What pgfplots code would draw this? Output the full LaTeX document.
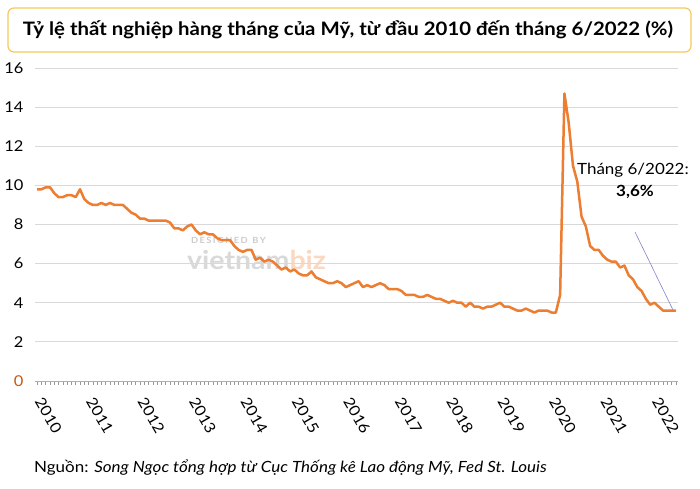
\documentclass[border=0pt]{standalone}
\usepackage{pgfplots}
\usepackage{pgfplotstable}
\pgfplotsset{compat=1.18}
\usepackage{fontspec}
\setmainfont{Lato}[FakeStretch=1.1]
\definecolor{lineor}{HTML}{ED7D31}
\definecolor{gridc}{HTML}{D9D9D9}
\definecolor{boxc}{HTML}{F6C85F}
\definecolor{zeroc}{HTML}{C55A11}
\pgfplotstableread{
u
9.8
9.8
9.9
9.9
9.6
9.4
9.4
9.5
9.5
9.4
9.8
9.3
9.1
9.0
9.0
9.1
9.0
9.1
9.0
9.0
9.0
8.8
8.6
8.5
8.3
8.3
8.2
8.2
8.2
8.2
8.2
8.1
7.8
7.8
7.7
7.9
8.0
7.7
7.5
7.6
7.5
7.5
7.3
7.2
7.2
7.2
6.9
6.7
6.6
6.7
6.7
6.2
6.3
6.1
6.2
6.1
5.9
5.7
5.8
5.6
5.7
5.5
5.4
5.4
5.6
5.3
5.2
5.1
5.0
5.0
5.1
5.0
4.8
4.9
5.0
5.1
4.8
4.9
4.8
4.9
5.0
4.9
4.7
4.7
4.7
4.6
4.4
4.4
4.4
4.3
4.3
4.4
4.3
4.2
4.2
4.1
4.0
4.1
4.0
4.0
3.8
4.0
3.8
3.8
3.7
3.8
3.8
3.9
4.0
3.8
3.8
3.7
3.6
3.6
3.7
3.6
3.5
3.6
3.6
3.6
3.5
3.5
4.4
14.7
13.2
11.0
10.2
8.4
7.9
6.9
6.7
6.7
6.4
6.2
6.1
6.1
5.8
5.9
5.4
5.2
4.8
4.6
4.2
3.9
4.0
3.8
3.6
3.6
3.6
3.6
}\unrate
\begin{document}
\begin{tikzpicture}[x=1bp,y=1bp]
\path[use as bounding box,fill=white] (0,0) rectangle (700,489);
% title box
\draw[boxc,line width=1.2bp,rounded corners=6bp] (8,437) rectangle (691,481);
\node[font=\fontsize{18.6}{21}\selectfont\bfseries] at (348,459) {Tỷ lệ thất nghiệp hàng tháng của Mỹ, từ đầu 2010 đến tháng 6/2022 (\%)};
% watermark
\node[anchor=west,font=\fontsize{8.5}{10}\selectfont\bfseries,text=gray!40,inner sep=0] at (191,249) {D\,E\,S\,I\,G\,N\,E\,D\ \ B\,Y};
\node[anchor=west,font=\fontsize{26}{28}\selectfont\bfseries,inner sep=0] at (187,229) {\textcolor{gray!30}{vietnam}\textcolor{lineor!30}{biz}};
\begin{axis}[
  scale only axis,
  width=643bp, height=313bp,
  at={(35bp,108bp)}, anchor=south west,
  xmin=-0.5, xmax=149.5, ymin=0, ymax=16,
  /pgf/number format/assume math mode=true,
  axis x line*=bottom, axis y line*=left,
  y axis line style={draw=none},
  x axis line style={gridc!80!black,line width=0.8bp},
  ytick={0,2,...,16},
  yticklabels={\textcolor{zeroc}{0},2,4,6,8,10,12,14,16},
  ymajorgrids,
  major grid style={gridc,line width=0.9bp},
  ytick style={draw=none},
  xtick={0,12,...,144},
  xticklabels={2010,2011,2012,2013,2014,2015,2016,2017,2018,2019,2020,2021,2022},
  minor xtick={0,...,149},
  tick align=outside,
  major tick length=4bp, minor tick length=4bp,
  xtick style={gridc!70!black,line width=0.5bp},
  minor tick style={gridc!70!black,line width=0.5bp},
  every tick label/.append style={font=\fontsize{15}{16}\selectfont},
  xticklabel style={yshift=-11bp,rotate=-60,anchor=west},
  yticklabel style={xshift=-4bp},
  clip=false,
]
\addplot[lineor,line width=2.5bp,line join=round] table[x expr=\coordindex,y=u]{\unrate};
\end{axis}
% annotation
\node[anchor=east,font=\fontsize{15.5}{18}\selectfont,inner sep=0] at (689,319) {Tháng 6/2022:};
\node[font=\fontsize{15.5}{18}\selectfont\bfseries,inner sep=0] at (635,297) {3,6\%};
\draw[blue!40!gray!70,line width=0.6bp] (635,257) -- (673,179);
% source
\node[anchor=west,font=\fontsize{15.5}{18}\selectfont,inner sep=0] at (34,21) {Nguồn: \textit{Song Ngọc tổng hợp từ Cục Thống kê Lao động Mỹ, Fed St. Louis}};
\end{tikzpicture}
\end{document}
